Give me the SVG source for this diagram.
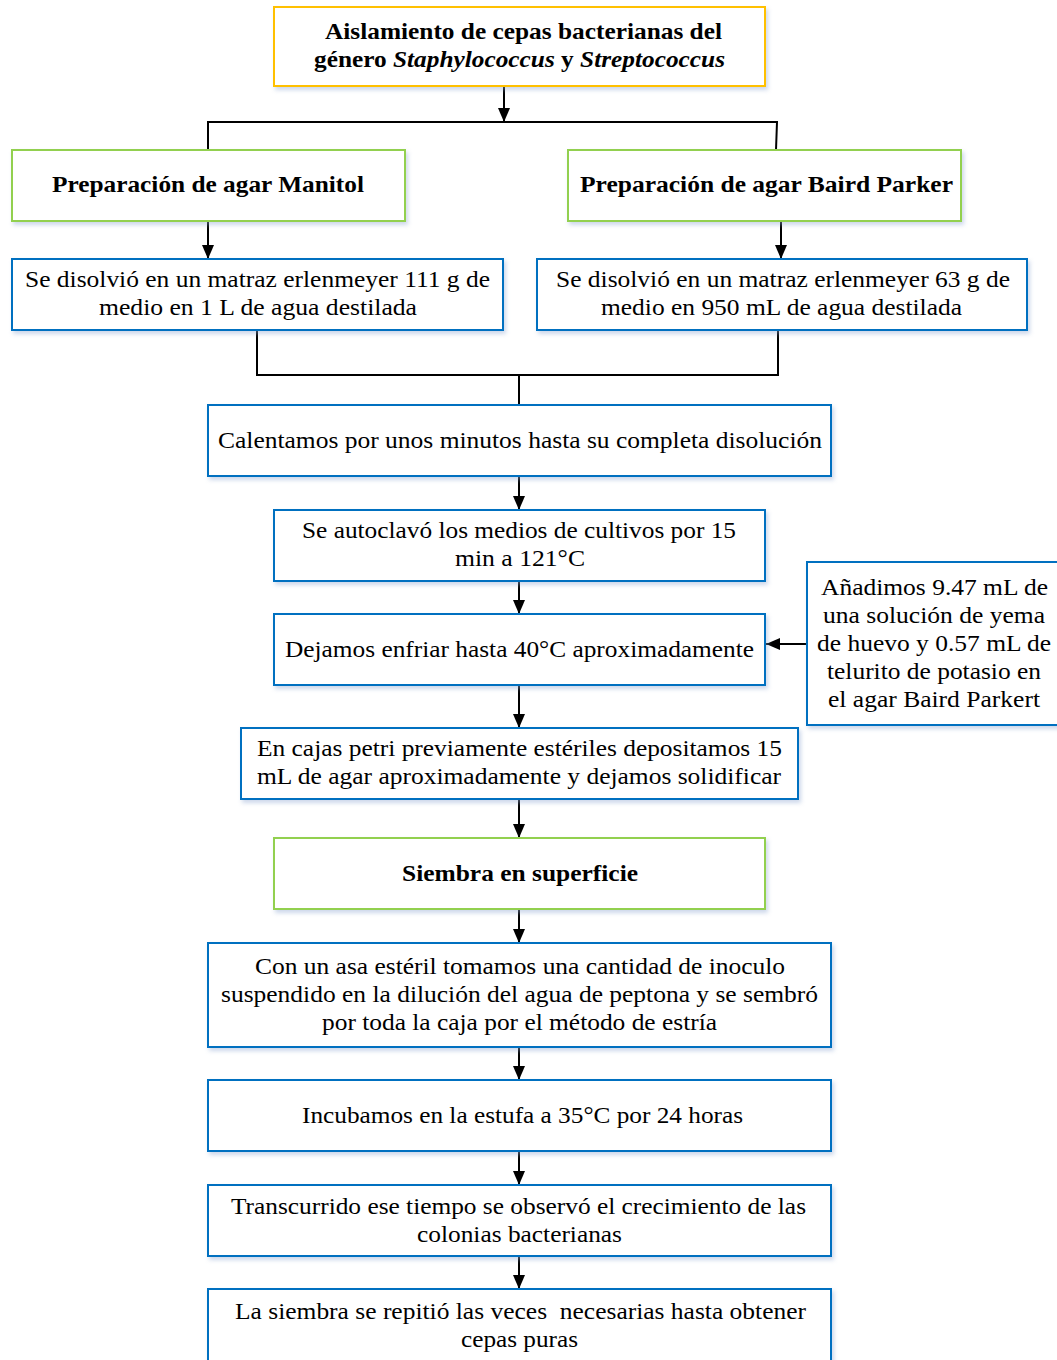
<svg xmlns="http://www.w3.org/2000/svg" width="1057" height="1360" viewBox="0 0 1057 1360">
<style>
.box{fill:#fff;stroke-width:2;filter:url(#sh)}
.y{stroke:#FFC000}.g{stroke:#92D050}.b{stroke:#0070C0}
text{font-family:"Liberation Serif","Times New Roman",serif;font-size:24px;fill:#000;text-anchor:middle}
.bd{font-weight:bold}
.ln{fill:none;stroke:#000;stroke-width:2}
</style>
<defs>
<filter id="sh" x="-5%" y="-10%" width="115%" height="130%">
<feDropShadow dx="2" dy="3" stdDeviation="2" flood-color="#8FA8D0" flood-opacity="0.45"/>
</filter>
<marker id="ar" markerUnits="userSpaceOnUse" markerWidth="14" markerHeight="14" viewBox="0 0 14 14" refX="14" refY="7" orient="auto">
<path d="M0,1 L14,7 L0,13 Z" fill="#000"/>
</marker>
</defs>

<g id="connectors">
<line class="ln" x1="504" y1="86" x2="504" y2="122" marker-end="url(#ar)"/>
<polyline class="ln" points="208,150 208,122 777,122 776,150"/>
<line class="ln" x1="208" y1="221" x2="208" y2="259" marker-end="url(#ar)"/>
<line class="ln" x1="781" y1="221" x2="781" y2="259" marker-end="url(#ar)"/>
<polyline class="ln" points="257,330 257,375 778,375 778,330"/>
<line class="ln" x1="519" y1="375" x2="519" y2="405"/>
<line class="ln" x1="519" y1="476" x2="519" y2="510" marker-end="url(#ar)"/>
<line class="ln" x1="519" y1="581" x2="519" y2="614" marker-end="url(#ar)"/>
<line class="ln" x1="519" y1="685" x2="519" y2="728" marker-end="url(#ar)"/>
<line class="ln" x1="807" y1="644" x2="766" y2="644" marker-end="url(#ar)"/>
<line class="ln" x1="519" y1="799" x2="519" y2="838" marker-end="url(#ar)"/>
<line class="ln" x1="519" y1="909" x2="519" y2="943" marker-end="url(#ar)"/>
<line class="ln" x1="519" y1="1047" x2="519" y2="1080" marker-end="url(#ar)"/>
<line class="ln" x1="519" y1="1151" x2="519" y2="1185" marker-end="url(#ar)"/>
<line class="ln" x1="519" y1="1256" x2="519" y2="1289" marker-end="url(#ar)"/>
</g>

<g id="n1">
<rect class="box y" x="274" y="7" width="491" height="79"/>
<text class="bd" x="523.5" y="39" textLength="397" lengthAdjust="spacingAndGlyphs">Aislamiento de cepas bacterianas del</text>
<text class="bd" x="519.5" y="67" textLength="411" lengthAdjust="spacingAndGlyphs">género <tspan font-style="italic">Staphylococcus</tspan> y <tspan font-style="italic">Streptococcus</tspan></text>
</g>
<g id="n2">
<rect class="box g" x="12" y="150" width="393" height="71"/>
<text class="bd" x="208" y="192" textLength="312" lengthAdjust="spacingAndGlyphs">Preparación de agar Manitol</text>
</g>
<g id="n3">
<rect class="box g" x="568" y="150" width="393" height="71"/>
<text class="bd" x="766.5" y="192" textLength="373" lengthAdjust="spacingAndGlyphs">Preparación de agar Baird Parker</text>
</g>
<g id="n4">
<rect class="box b" x="12" y="259" width="491" height="71"/>
<text x="257.5" y="287" textLength="465" lengthAdjust="spacingAndGlyphs">Se disolvió en un matraz erlenmeyer 111 g de</text>
<text x="258" y="315" textLength="318" lengthAdjust="spacingAndGlyphs">medio en 1 L de agua destilada</text>
</g>
<g id="n5">
<rect class="box b" x="537" y="259" width="490" height="71"/>
<text x="783" y="287" textLength="454" lengthAdjust="spacingAndGlyphs">Se disolvió en un matraz erlenmeyer 63 g de</text>
<text x="781.5" y="315" textLength="361" lengthAdjust="spacingAndGlyphs">medio en 950 mL de agua destilada</text>
</g>
<g id="n6">
<rect class="box b" x="208" y="405" width="623" height="71"/>
<text x="520" y="448" textLength="604" lengthAdjust="spacingAndGlyphs">Calentamos por unos minutos hasta su completa disolución</text>
</g>
<g id="n7">
<rect class="box b" x="274" y="510" width="491" height="71"/>
<text x="519" y="538" textLength="434" lengthAdjust="spacingAndGlyphs">Se autoclavó los medios de cultivos por 15</text>
<text x="520" y="566" textLength="130" lengthAdjust="spacingAndGlyphs">min a 121°C</text>
</g>
<g id="n8">
<rect class="box b" x="274" y="614" width="491" height="71"/>
<text x="519.5" y="657" textLength="469" lengthAdjust="spacingAndGlyphs">Dejamos enfriar hasta 40°C aproximadamente</text>
</g>
<g id="n9">
<rect class="box b" x="807" y="562" width="256" height="163"/>
<text x="934.5" y="595" textLength="227" lengthAdjust="spacingAndGlyphs">Añadimos 9.47 mL de</text>
<text x="934" y="623" textLength="222" lengthAdjust="spacingAndGlyphs">una solución de yema</text>
<text x="934" y="651" textLength="234" lengthAdjust="spacingAndGlyphs">de huevo y 0.57 mL de</text>
<text x="934" y="679" textLength="214" lengthAdjust="spacingAndGlyphs">telurito de potasio en</text>
<text x="934" y="707" textLength="212" lengthAdjust="spacingAndGlyphs">el agar Baird Parkert</text>
</g>
<g id="n10">
<rect class="box b" x="241" y="728" width="557" height="71"/>
<text x="519.5" y="756" textLength="525" lengthAdjust="spacingAndGlyphs">En cajas petri previamente estériles depositamos 15</text>
<text x="519" y="784" textLength="524" lengthAdjust="spacingAndGlyphs">mL de agar aproximadamente y dejamos solidificar</text>
</g>
<g id="n11">
<rect class="box g" x="274" y="838" width="491" height="71"/>
<text class="bd" x="520" y="881" textLength="236" lengthAdjust="spacingAndGlyphs">Siembra en superficie</text>
</g>
<g id="n12">
<rect class="box b" x="208" y="943" width="623" height="104"/>
<text x="520" y="974" textLength="530" lengthAdjust="spacingAndGlyphs">Con un asa estéril tomamos una cantidad de inoculo</text>
<text x="519.5" y="1002" textLength="597" lengthAdjust="spacingAndGlyphs">suspendido en la dilución del agua de peptona y se sembró</text>
<text x="519.5" y="1030" textLength="395" lengthAdjust="spacingAndGlyphs">por toda la caja por el método de estría</text>
</g>
<g id="n13">
<rect class="box b" x="208" y="1080" width="623" height="71"/>
<text x="522.5" y="1123" textLength="441" lengthAdjust="spacingAndGlyphs">Incubamos en la estufa a 35°C por 24 horas</text>
</g>
<g id="n14">
<rect class="box b" x="208" y="1185" width="623" height="71"/>
<text x="518.5" y="1214" textLength="575" lengthAdjust="spacingAndGlyphs">Transcurrido ese tiempo se observó el crecimiento de las</text>
<text x="519.5" y="1242" textLength="205" lengthAdjust="spacingAndGlyphs">colonias bacterianas</text>
</g>
<g id="n15">
<rect class="box b" x="208" y="1289" width="623" height="90"/>
<text x="520.5" y="1319" textLength="571" lengthAdjust="spacingAndGlyphs">La siembra se repitió las veces &#160;necesarias hasta obtener</text>
<text x="519.5" y="1347" textLength="117" lengthAdjust="spacingAndGlyphs">cepas puras</text>
</g>
</svg>
